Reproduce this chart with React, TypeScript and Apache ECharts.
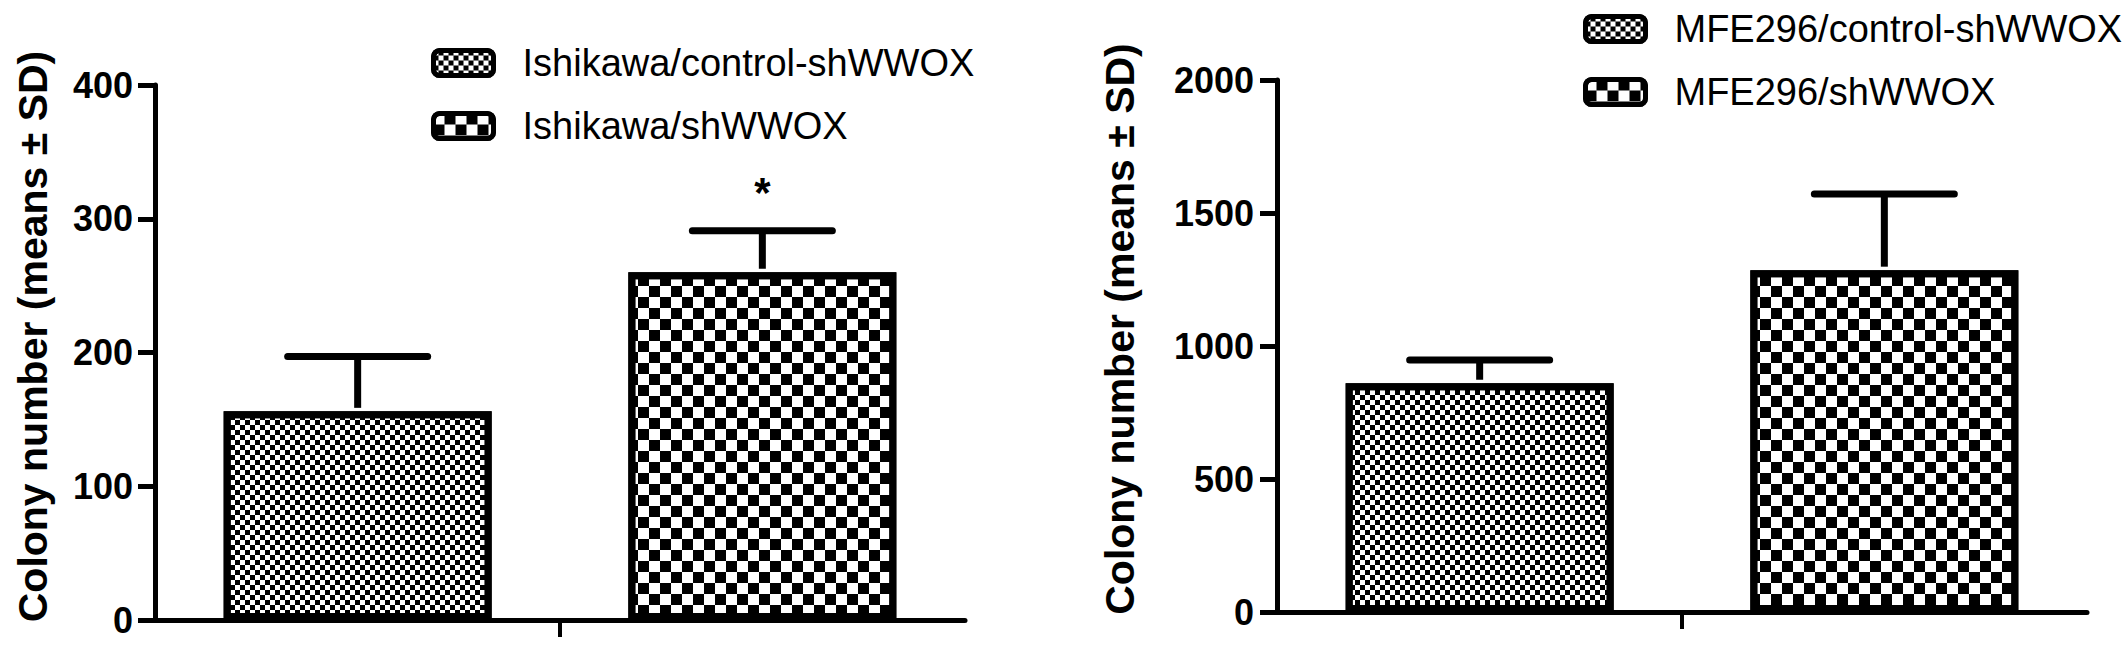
import React, { useEffect, useRef } from "react";
import * as echarts from "echarts";

// ---------- data ----------
const LEFT_CATEGORIES = ["Ishikawa"];
const LEFT_SERIES_NAMES = ["Ishikawa/control-shWWOX", "Ishikawa/shWWOX"];
const LEFT_MEANS = [156, 260];
const LEFT_SD = [41, 31];
const LEFT_SIGNIF = ["", "*"];
const LEFT_Y_TICKS = [0, 100, 200, 300, 400];

const RIGHT_CATEGORIES = ["MFE296"];
const RIGHT_SERIES_NAMES = ["MFE296/control-shWWOX", "MFE296/shWWOX"];
const RIGHT_MEANS = [860, 1285];
const RIGHT_SD = [87, 286];
const RIGHT_SIGNIF = ["", ""];
const RIGHT_Y_TICKS = [0, 500, 1000, 1500, 2000];

const Y_TITLE = "Colony number (means ± SD)";

// ---------- styling ----------
const FONT = "'Liberation Sans', Arial, Helvetica, sans-serif";
const BAR_W = 268;
const BAR_GAP = 0.51;
const BORDER = 7;

const checker = (s: number) => ({
  symbol: "rect",
  symbolSize: 1,
  color: "#000",
  backgroundColor: "#fff",
  dashArrayX: [
    [s, s],
    [0, s, s, 0],
  ],
  dashArrayY: [s, 0],
  rotation: 0,
});
const FINE = checker(4.5);
const COARSE = checker(11);

function barSeries(name: string, value: number, axis: number, decal: any) {
  return {
    type: "bar",
    name,
    xAxisIndex: axis,
    yAxisIndex: axis,
    data: [value],
    barWidth: BAR_W,
    barGap: Math.round(BAR_GAP * 100) + "%",
    itemStyle: {
      color: "#fff",
      borderColor: "#000",
      borderWidth: BORDER,
      decal,
    },
    silent: true,
  };
}

function errorSeries(
  means: number[],
  sds: number[],
  signif: string[],
  axis: number
) {
  return {
    type: "custom",
    xAxisIndex: axis,
    yAxisIndex: axis,
    z: 10,
    silent: true,
    data: means.map((m, i) => [0, m, sds[i], i]),
    encode: { x: 0, y: 1 },
    renderItem: (params: any, api: any) => {
      const cat = api.value(0);
      const mean = api.value(1);
      const sd = api.value(2);
      const idx = api.value(3);
      const n = means.length;
      const base = api.coord([cat, mean]);
      const top = api.coord([cat, mean + sd]);
      const offset = (idx - (n - 1) / 2) * BAR_W * (1 + BAR_GAP);
      const x = base[0] + offset;
      const capHalf = 70;
      const style = {
        stroke: "#000",
        lineWidth: 7,
        lineCap: "round",
        fill: null,
      };
      const children: any[] = [
        {
          type: "line",
          shape: { x1: x, y1: base[1] - BORDER / 2, x2: x, y2: top[1] },
          style: { ...style, lineCap: "butt" },
        },
        {
          type: "line",
          shape: { x1: x - capHalf, y1: top[1], x2: x + capHalf, y2: top[1] },
          style,
        },
      ];
      const s = signif[idx];
      if (s) {
        children.push({
          type: "text",
          x,
          y: top[1] - 38,
          style: {
            text: s,
            fill: "#000",
            font: `bold 42px ${FONT}`,
            align: "center",
            verticalAlign: "middle",
          },
        });
      }
      return { type: "group", children };
    },
  };
}

function yAxis(ticks: number[], gridIndex: number, nameGap: number, shift: number, margin: number) {
  return {
    type: "value",
    gridIndex,
    min: ticks[0],
    max: ticks[ticks.length - 1],
    interval: ticks[1] - ticks[0],
    name: Y_TITLE,
    nameLocation: "middle",
    nameRotate: 90,
    nameGap,
    nameTextStyle: {
      fontFamily: FONT,
      fontWeight: "bold",
      fontSize: 41,
      color: "#000",
      padding: [0, 0, 0, shift],
    },
    axisLine: { show: true, lineStyle: { color: "#000", width: 5 } },
    axisTick: { show: true, length: 17, lineStyle: { color: "#000", width: 5 } },
    axisLabel: {
      fontFamily: FONT,
      fontWeight: "bold",
      fontSize: 36,
      color: "#000",
      margin,
      formatter: (v: number) => String(v),
    },
    splitLine: { show: false },
  };
}

function xAxis(cats: string[], gridIndex: number) {
  return {
    type: "category",
    gridIndex,
    data: cats,
    axisLine: { show: true, lineStyle: { color: "#000", width: 5 } },
    axisTick: {
      show: true,
      alignWithLabel: true,
      length: 17,
      lineStyle: { color: "#000", width: 4 },
    },
    axisLabel: { show: false },
    splitLine: { show: false },
  };
}

function legend(names: string[], left: number, top: number, gap: number) {
  return {
    data: names,
    orient: "vertical",
    left,
    top,
    padding: 0,
    itemGap: gap,
    itemWidth: 60,
    itemHeight: 25,
    icon: "roundRect",
    selectedMode: false,
    itemStyle: { borderColor: "#000", borderWidth: 5 },
    textStyle: {
      fontFamily: FONT,
      fontSize: 38,
      color: "#000",
      lineHeight: 36,
      padding: [0, 0, 0, 24],
    },
  };
}

export default function App() {
  const ref = useRef<HTMLDivElement>(null);
  useEffect(() => {
    document.body.style.margin = "0";
    if (!ref.current) return;
    const chart = echarts.init(ref.current, null, { renderer: "svg" });
    chart.setOption({
      animation: false,
      backgroundColor: "#fff",
      grid: [
        { left: 155, top: 85, width: 810, height: 535 },
        { left: 1277, top: 80, width: 810, height: 532 },
      ],
      xAxis: [xAxis(LEFT_CATEGORIES, 0), xAxis(RIGHT_CATEGORIES, 1)],
      yAxis: [
        yAxis(LEFT_Y_TICKS, 0, 102, 32, 22),
        yAxis(RIGHT_Y_TICKS, 1, 137, 34, 23),
      ],
      legend: [
        legend(LEFT_SERIES_NAMES, 431, 44, 25),
        legend(RIGHT_SERIES_NAMES, 1583, 10, 25),
      ],
      series: [
        barSeries(LEFT_SERIES_NAMES[0], LEFT_MEANS[0], 0, FINE),
        barSeries(LEFT_SERIES_NAMES[1], LEFT_MEANS[1], 0, COARSE),
        errorSeries(LEFT_MEANS, LEFT_SD, LEFT_SIGNIF, 0),
        barSeries(RIGHT_SERIES_NAMES[0], RIGHT_MEANS[0], 1, FINE),
        barSeries(RIGHT_SERIES_NAMES[1], RIGHT_MEANS[1], 1, COARSE),
        errorSeries(RIGHT_MEANS, RIGHT_SD, RIGHT_SIGNIF, 1),
      ],
    });
    return () => chart.dispose();
  }, []);
  return <div ref={ref} style={{ width: 2126, height: 654 }} />;
}
